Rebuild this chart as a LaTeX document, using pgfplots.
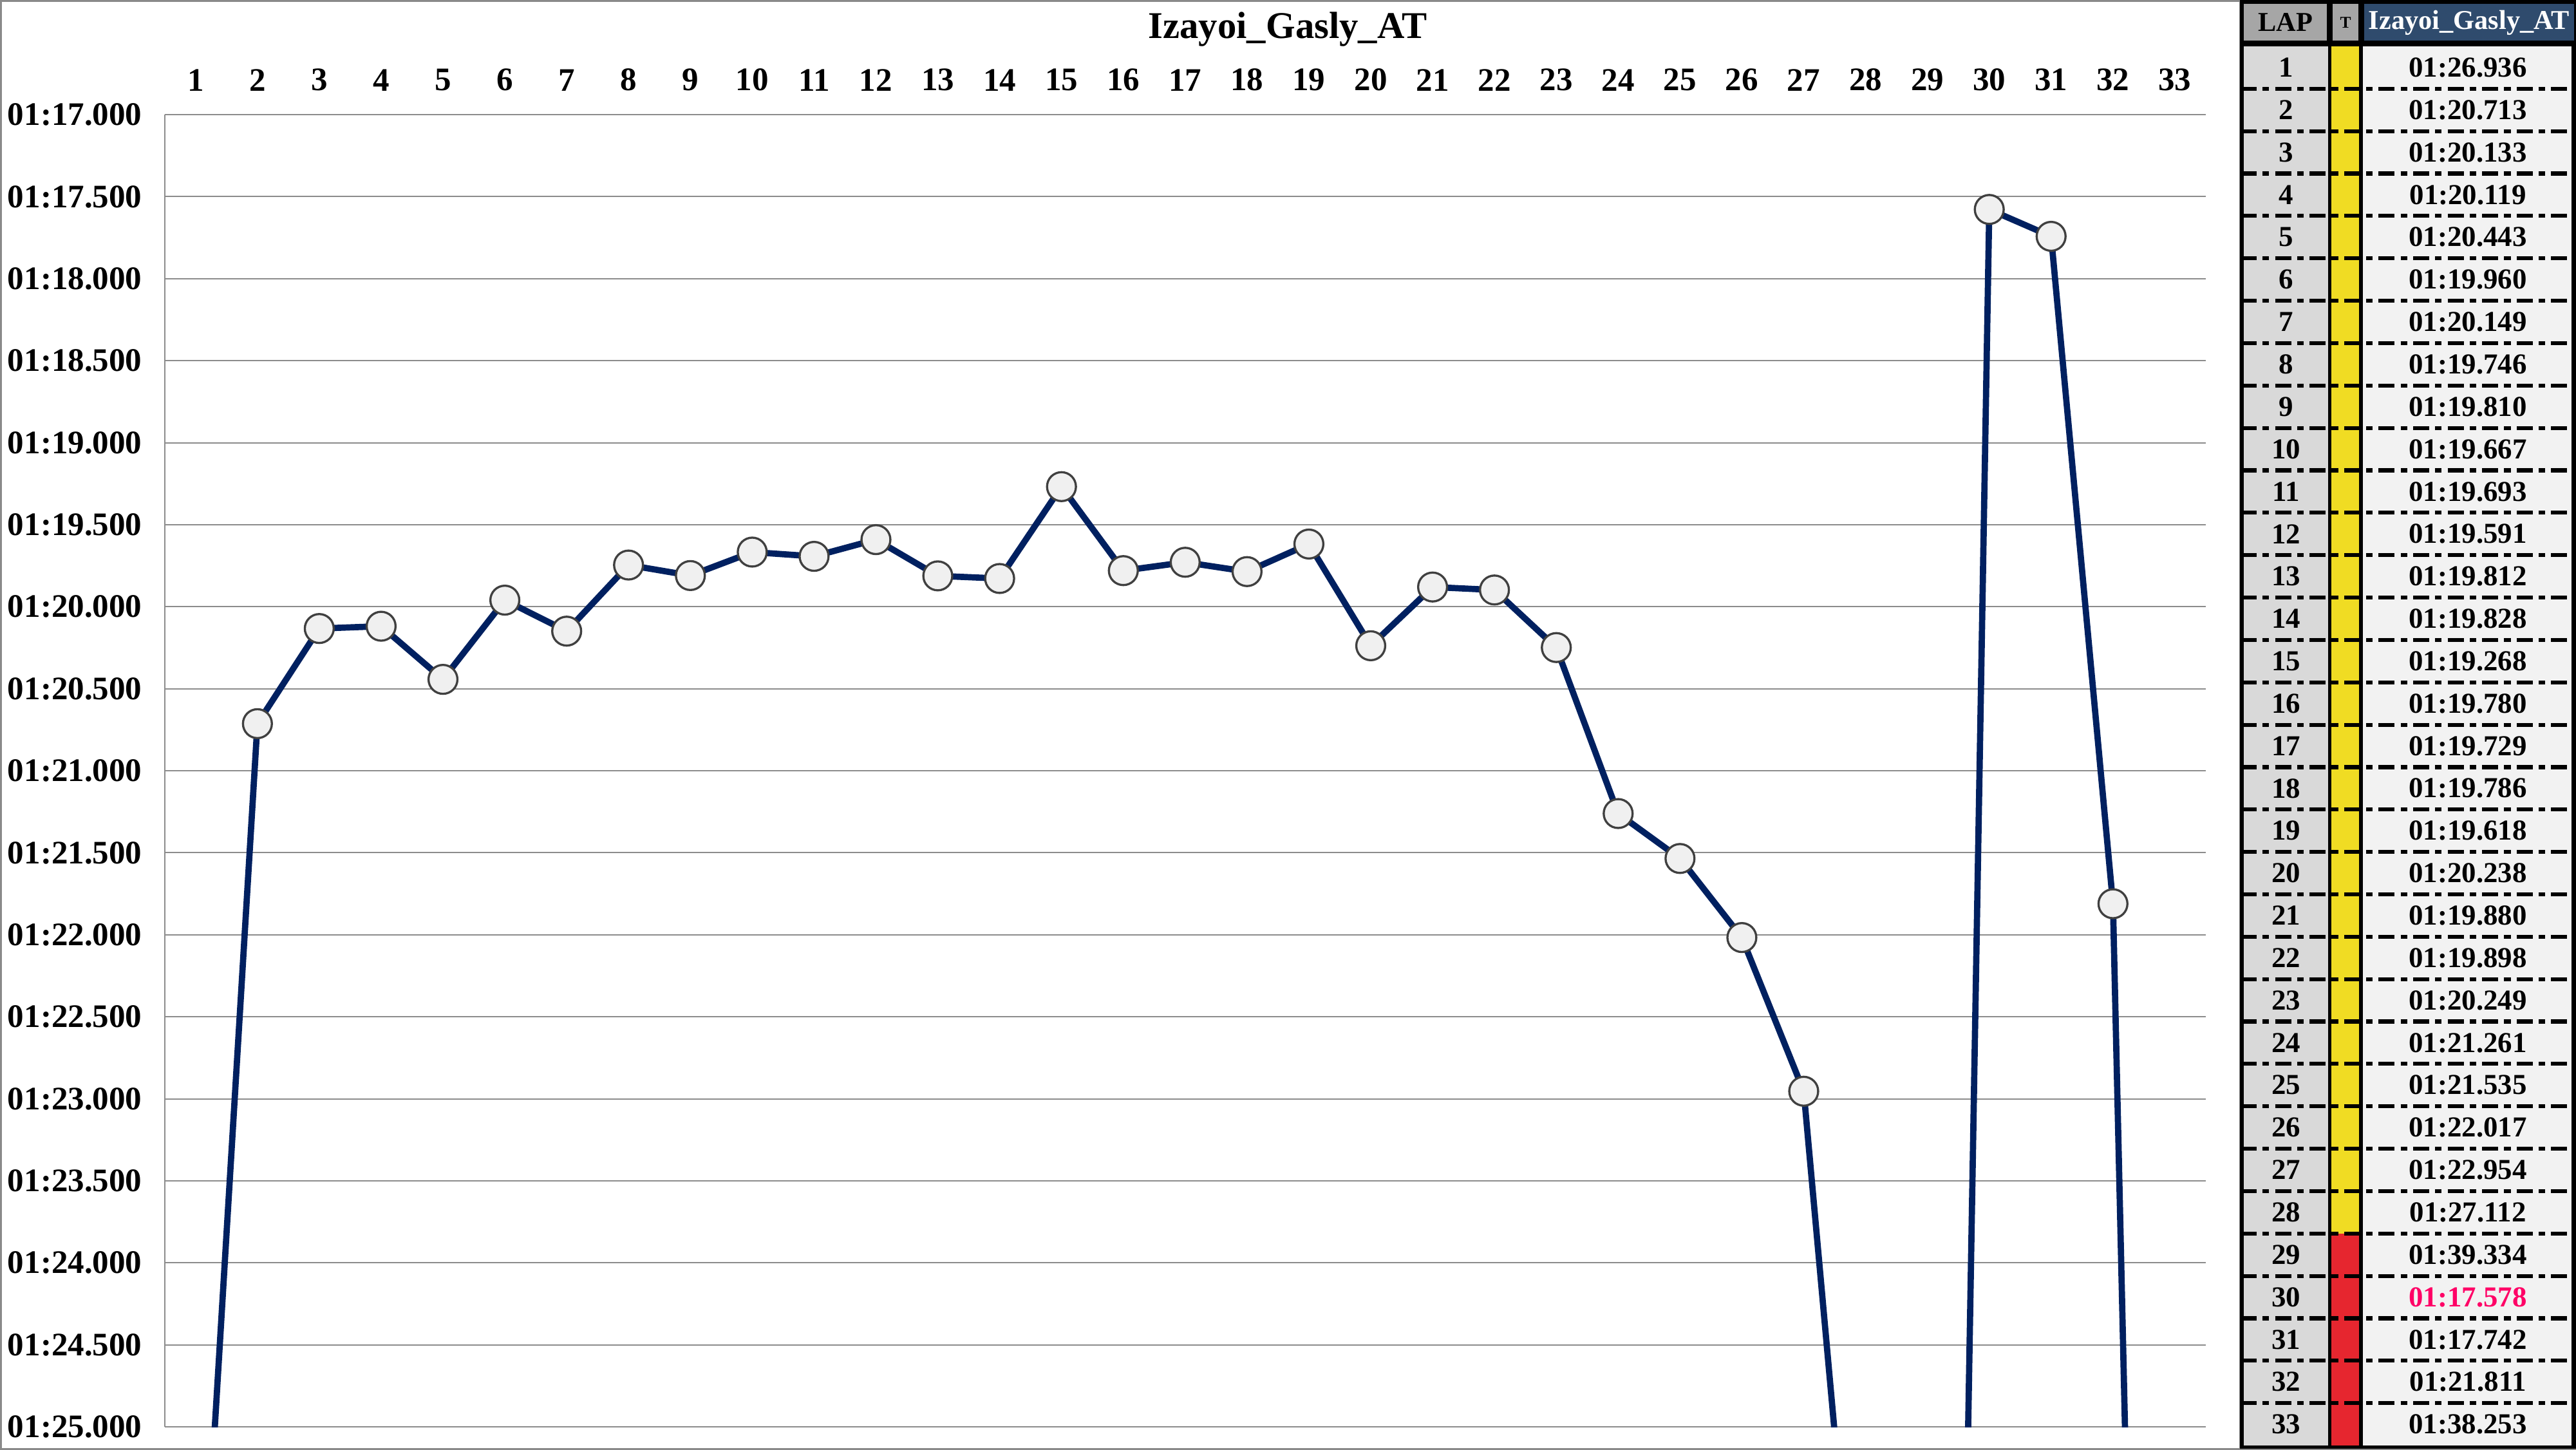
\documentclass[border=0pt]{standalone}
\usepackage{fontspec}
\setmainfont{Liberation Serif}
\usepackage{pgfplots}
\pgfplotsset{compat=1.18}
\definecolor{navy}{HTML}{002060}
\definecolor{gridgray}{HTML}{8C8C8C}
\definecolor{framegray}{HTML}{8A8A8A}
\definecolor{markfill}{HTML}{F0F0F0}
\definecolor{markdraw}{HTML}{404040}
\definecolor{hdrgray}{HTML}{A6A6A6}
\definecolor{lapgray}{HTML}{D9D9D9}
\definecolor{cellgray}{HTML}{F2F2F2}
\definecolor{tyellow}{HTML}{F0DC23}
\definecolor{tred}{HTML}{E6262F}
\definecolor{hdrblue}{HTML}{2F4B6D}
\definecolor{bestpink}{HTML}{FF0066}
\begin{document}
\begin{tikzpicture}
\useasboundingbox (0,0) rectangle (784pt,441.27pt);
\begin{scope}[shift={(0pt,441.27pt)},x=0.19595pt,y=-0.19595pt]
  \fill[white] (0,0) rectangle (4001,2252);
  \draw[draw=framegray,line width=0.6pt] (1.5,1.5) rectangle (3479,2250.5);
  \draw[draw=framegray,line width=0.6pt] (3479,2250.5) -- (4001,2250.5);
  \node[font=\bfseries\fontsize{11.5}{13}\selectfont] at (2000,46) {Izayoi\_Gasly\_AT};
\end{scope}
\begin{axis}[
  at={(50.11pt,7.04pt)}, anchor=south west,
  scale only axis, width=621.2pt, height=399.35pt,
  xmin=0.5, xmax=33.5, ymin=77, ymax=85,
  y dir=reverse,
  xtick={1,...,33},
  xticklabel pos=upper,
  ytick={77,77.5,78,78.5,79,79.5,80,80.5,81,81.5,82,82.5,83,83.5,84,84.5,85},
  yticklabels={01:17.000,01:17.500,01:18.000,01:18.500,01:19.000,01:19.500,01:20.000,01:20.500,01:21.000,01:21.500,01:22.000,01:22.500,01:23.000,01:23.500,01:24.000,01:24.500,01:25.000},
  ymajorgrids,
  grid style={line width=0.4pt, color=gridgray},
  major tick length=0pt,
  axis line style={draw=none},
  ticklabel style={font=\bfseries\fontsize{10}{12}\selectfont},
  /pgf/number format/assume math mode=true,
  yticklabel style={xshift=-3.4pt},
  xticklabel style={yshift=3.7pt},
  clip mode=individual,
]
\draw[gridgray, line width=0.4pt] (rel axis cs:0,0) -- (rel axis cs:0,1);
\addplot[navy, line width=1.9pt, mark=*, mark size=4.4pt,
  mark options={fill=markfill, draw=markdraw, line width=0.65pt}] coordinates {
(1,86.936) (2,80.713) (3,80.133) (4,80.119) (5,80.443) (6,79.960) (7,80.149)
(8,79.746) (9,79.810) (10,79.667) (11,79.693) (12,79.591) (13,79.812) (14,79.828)
(15,79.268) (16,79.780) (17,79.729) (18,79.786) (19,79.618) (20,80.238) (21,79.880)
(22,79.898) (23,80.249) (24,81.261) (25,81.535) (26,82.017) (27,82.954) (28,87.112)
(29,99.334) (30,77.578) (31,77.742) (32,81.811) (33,98.253)
};
\end{axis}
\begin{scope}[shift={(0pt,441.27pt)},x=0.19595pt,y=-0.19595pt]
  \fill[black] (3479,0) rectangle (4001,2250);
  \fill[hdrgray] (3485,6) rectangle (3614,63);
  \fill[hdrgray] (3623,6) rectangle (3663,63);
  \fill[hdrblue] (3672,6) rectangle (3998,63);
  \node[font=\bfseries\fontsize{8.3}{10}\selectfont] at (3549.5,35) {LAP};
  \node[font=\bfseries\fontsize{5}{6}\selectfont] at (3643,35) {T};
  \node[font=\bfseries\fontsize{8.3}{10}\selectfont, text=white] at (3835,35) {Izayoi\_Gasly\_AT};
  \foreach \i/\v in {1/01:26.936,2/01:20.713,3/01:20.133,4/01:20.119,5/01:20.443,6/01:19.960,7/01:20.149,8/01:19.746,9/01:19.810,10/01:19.667,11/01:19.693,12/01:19.591,13/01:19.812,14/01:19.828,15/01:19.268,16/01:19.780,17/01:19.729,18/01:19.786,19/01:19.618,20/01:20.238,21/01:19.880,22/01:19.898,23/01:20.249,24/01:21.261,25/01:21.535,26/01:22.017,27/01:22.954,28/01:27.112,29/01:39.334,30/01:17.578,31/01:17.742,32/01:21.811,33/01:38.253} {
    \pgfmathsetmacro\yt{72+(\i-1)*65.85}
    \pgfmathsetmacro\yb{72+\i*65.85}
    \pgfmathsetmacro\ym{72+(\i-0.5)*65.85}
    \fill[lapgray] (3485,\yt) rectangle (3616,\yb);
    \ifnum\i<29
      \fill[tyellow] (3621,\yt) rectangle (3664,\yb);
    \else
      \fill[tred] (3621,\yt) rectangle (3664,\yb);
    \fi
    \fill[cellgray] (3670,\yt) rectangle (3994,\yb);
    \node[font=\bfseries\fontsize{8.8}{10}\selectfont] at (3550.5,\ym) {\i};
    \ifnum\i=30
      \node[font=\bfseries\fontsize{8.8}{10}\selectfont, text=bestpink] at (3833,\ym) {\v};
    \else
      \node[font=\bfseries\fontsize{8.8}{10}\selectfont] at (3833,\ym) {\v};
    \fi
  }
  \foreach \k in {1,...,32} {
    \pgfmathsetmacro\ys{72+\k*65.85}
    \draw[black, line width=1.2pt, dash pattern=on 4.9pt off 1.8pt on 2pt off 1.8pt] (3480,\ys) -- (4001,\ys);
  }
\end{scope}
\end{tikzpicture}
\end{document}
